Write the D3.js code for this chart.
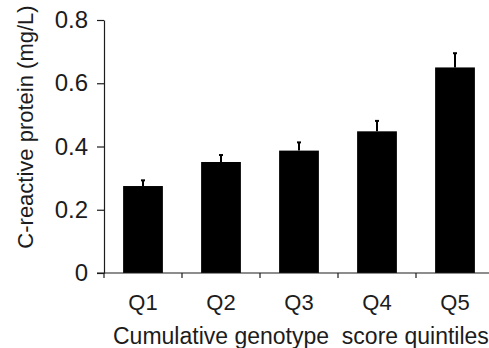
<!DOCTYPE html>
<html>
<head>
<meta charset="utf-8">
<script src="https://cdn.jsdelivr.net/npm/d3@7"></script>
<style>
  body { margin: 0; background: #fff; }
  svg { display: block; font-family: "Liberation Sans", Arial, sans-serif; }
</style>
</head>
<body>
<div id="chart"></div>
<script>
const categories = ["Q1", "Q2", "Q3", "Q4", "Q5"];
const means = [0.275, 0.351, 0.387, 0.448, 0.650];
const upperErr = [0.293, 0.373, 0.413, 0.481, 0.695];
const yTicks = [0, 0.2, 0.4, 0.6, 0.8];

const W = 489, H = 348;
const margin = { left: 104, top: 20 };
const plotBottom = 273;

const svg = d3.select("#chart").append("svg")
  .attr("width", W).attr("height", H);

const x = d3.scaleBand().domain(categories).range([margin.left, margin.left + 390]).paddingInner(0.49).paddingOuter(0.245);
const y = d3.scaleLinear().domain([0, 0.8]).range([plotBottom, margin.top]);

const ink = "#1c1c1c";

// bars
svg.selectAll("rect.bar").data(categories).enter().append("rect")
  .attr("class", "bar")
  .attr("x", d => x(d))
  .attr("width", x.bandwidth())
  .attr("y", (d, i) => y(means[i]))
  .attr("height", (d, i) => y(0) - y(means[i]))
  .attr("fill", "#000");

// error bars (upper only)
const eb = svg.selectAll("g.err").data(categories).enter().append("g").attr("class", "err");
eb.append("line")
  .attr("x1", d => x(d) + x.bandwidth() / 2)
  .attr("x2", d => x(d) + x.bandwidth() / 2)
  .attr("y1", (d, i) => y(means[i]))
  .attr("y2", (d, i) => y(upperErr[i]))
  .attr("stroke", "#000").attr("stroke-width", 2);
eb.append("line")
  .attr("x1", d => x(d) + x.bandwidth() / 2 - 2)
  .attr("x2", d => x(d) + x.bandwidth() / 2 + 2)
  .attr("y1", (d, i) => y(upperErr[i]))
  .attr("y2", (d, i) => y(upperErr[i]))
  .attr("stroke", "#000").attr("stroke-width", 2);

// y axis
const yAxis = svg.append("g")
  .attr("transform", `translate(${margin.left},0)`)
  .call(d3.axisLeft(y).tickValues(yTicks).tickFormat(d => d === 0 ? "0" : d3.format(".1f")(d)).tickSize(7).tickSizeOuter(0).tickPadding(9));
yAxis.select(".domain").attr("stroke", ink).attr("stroke-width", 1.2);
yAxis.selectAll(".tick line").attr("stroke", ink).attr("stroke-width", 1.2);
yAxis.selectAll("text").attr("fill", ink).style("font-size", "24px").style("font-family", "\"Liberation Sans\", Arial, sans-serif");

// x axis: line with ticks between categories, labels centered
const xAxisG = svg.append("g");
xAxisG.append("line")
  .attr("x1", margin.left - 7).attr("x2", margin.left + 390)
  .attr("y1", y(0)).attr("y2", y(0))
  .attr("stroke", ink).attr("stroke-width", 1.2);
const step = x.step();
xAxisG.selectAll("line.tk").data(categories).enter().append("line")
  .attr("class", "tk")
  .attr("x1", (d, i) => margin.left + i * step)
  .attr("x2", (d, i) => margin.left + i * step)
  .attr("y1", y(0)).attr("y2", y(0) + 5)
  .attr("stroke", ink).attr("stroke-width", 1.2);
xAxisG.selectAll("text").data(categories).enter().append("text")
  .attr("x", d => x(d) + x.bandwidth() / 2)
  .attr("y", 310)
  .attr("text-anchor", "middle")
  .attr("fill", ink)
  .style("font-size", "22px")
  .text(d => d);

// axis titles
svg.append("text")
  .attr("transform", `translate(33,127) rotate(-90)`)
  .attr("text-anchor", "middle")
  .attr("fill", ink)
  .style("font-size", "22px")
  .text("C-reactive protein (mg/L)");

svg.append("text")
  .attr("x", 113).attr("y", 344)
  .attr("fill", ink)
  .style("font-size", "23px")
  .style("white-space", "pre")
  .text("Cumulative genotype  score quintiles");
</script>
</body>
</html>
